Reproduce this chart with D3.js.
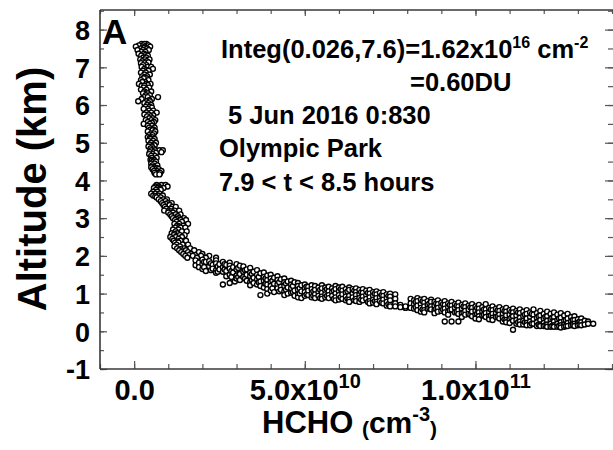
<!DOCTYPE html>
<html><head><meta charset="utf-8">
<script src="https://cdn.jsdelivr.net/npm/d3@7"></script>
<style>
body{margin:0;background:#fff}
svg{display:block;font-family:"Liberation Sans",Arial,sans-serif;font-weight:bold}
</style>
</head><body><svg id="chart" width="613" height="450"></svg>
<script>
// ---------- data (HCHO in units of 1e10 molecules cm^-3, altitude in km) ----------
// vertical part of the profile: [altitude, hcho, hcho, ...]
const profileByAltitude = [
  [7.62,0.22,0.36,0.30],[7.58,0.14,0.42,0.27],[7.55,0.05,0.31,0.47],[7.52,0.28],[7.50,0.19,0.38],
  [7.46,0.10,0.26,0.43],[7.41,0.22,0.33],[7.36,0.13,0.29],[7.33,0.34],[7.31,0.21,0.40],
  [7.26,0.27,0.35],[7.21,0.18,0.32,0.45],[7.16,0.24,0.37],[7.13,0.42],[7.11,0.30,0.20],
  [7.06,0.36,0.26],[7.01,0.22,0.40,0.50],[6.96,0.30,0.55],[6.93,0.36],[6.91,0.26,0.42],
  [6.86,0.34,0.20],[6.81,0.30,0.46],[6.76,0.24,0.38],[6.73,0.30],[6.71,0.36,0.28],
  [6.66,0.20,0.42],[6.61,0.32,0.24],[6.56,0.14,0.36,0.48],[6.53,0.40],[6.51,0.22,0.30],
  [6.46,0.28,0.44],[6.41,0.20,0.36],[6.36,0.30,0.50],[6.33,0.36],[6.31,0.26,0.40],
  [6.26,0.34,0.46],[6.21,0.30,0.70,0.40],[6.16,0.22,0.52],[6.13,0.44],[6.10,0.12,0.36,0.46],
  [6.05,0.30,0.42],[6.00,0.38,0.50],[5.95,0.34,0.46],[5.93,0.52],[5.90,0.40,0.28],
  [5.85,0.44,0.56],[5.80,0.36,0.50,0.66],[5.75,0.42,0.30],[5.73,0.56],[5.70,0.48,0.38],
  [5.65,0.54,0.44],[5.60,0.34,0.50,0.62],[5.55,0.40,0.58],[5.53,0.52],[5.50,0.46,0.28],
  [5.45,0.52,0.40],[5.40,0.44,0.60],[5.35,0.48,0.56],[5.33,0.54],[5.30,0.40,0.62],
  [5.25,0.50,0.58],[5.20,0.44,0.54],[5.15,0.52,0.40],[5.13,0.46],[5.10,0.48,0.60],
  [5.05,0.42,0.56],[5.00,0.50,0.64],[4.95,0.46,0.58],[4.93,0.60],[4.90,0.52,0.42],
  [4.85,0.56,0.48],[4.80,0.50,0.62,0.74,0.84],[4.75,0.46,0.58,0.80],[4.73,0.64],[4.70,0.54,0.44],
  [4.65,0.60,0.50],[4.60,0.52,0.66],[4.55,0.48,0.58],[4.53,0.52],[4.50,0.56,0.64],
  [4.45,0.50,0.60],[4.40,0.54,0.68],[4.35,0.58,0.50],[4.33,0.66],[4.30,0.62,0.72,0.54],
  [4.25,0.66,0.80,0.58],[4.20,0.70,0.60,0.76],[4.16,0.64,0.74],
  [3.88,0.66,0.80,0.92],[3.84,0.62,0.72,0.98],[3.80,0.58,0.70,0.86],[3.78,0.76],[3.75,0.64,0.78],
  [3.70,0.56,0.68],[3.65,0.50,0.62,0.74],[3.60,0.56,0.70,0.84],[3.58,0.62],[3.55,0.66,0.78],
  [3.50,0.72,0.86,0.96],[3.45,0.78,0.92],[3.40,0.82,0.98,1.10],[3.38,0.92],[3.35,0.86,1.04],
  [3.30,0.90,1.12,1.22],[3.25,0.94,1.08],[3.20,0.88,1.02,1.18,1.32],[3.18,1.08],[3.15,1.00,1.14],
  [3.10,1.06,1.22,1.36],[3.05,1.10,1.28],[3.00,1.14,1.30,1.46],[2.98,1.24],[2.95,1.20,1.36,1.52],
  [2.90,1.24,1.40],[2.85,1.18,1.32,1.58],[2.80,1.26,1.44],[2.78,1.32],[2.75,1.20,1.36,1.50],
  [2.70,1.14,1.30],[2.65,1.22,1.40,1.54],[2.60,1.10,1.26],[2.58,1.18],[2.55,1.16,1.34,1.48],
  [2.50,1.06,1.22,1.40],[2.45,1.12,1.30],[2.40,1.16,1.36,1.52],[2.38,1.26],[2.35,1.20,1.30],
  [2.30,1.24,1.42,1.58],[2.25,1.18,1.34],[2.20,1.26,1.46,1.64],[2.18,1.36],[2.15,1.32,1.52,1.76],
  [2.10,1.38,1.58,1.90],[2.05,1.44,1.66,2.00],[2.02,1.60],[2.00,1.50,1.72,1.96,2.20],[1.95,1.56,1.84,2.10,2.40]
];
// near-horizontal part of the profile: [hcho, altitude, altitude, ...]
const profileByHcho = [
  [1.80,1.88,1.75],[1.90,1.82,1.70],[2.00,1.90,1.78,1.65],[2.05,1.84,1.70],[2.10,1.84,1.60],
  [2.20,1.86,1.72],[2.25,1.80,1.62],[2.30,1.76,1.66],[2.40,1.88,1.80,1.62,1.55],[2.45,1.72,1.58],[2.50,1.78,1.64],
  [2.60,1.84,1.70,1.58,1.24],[2.65,1.78,1.64],[2.70,1.76,1.60,1.46],[2.80,1.82,1.74,1.66,1.50,1.28],[2.85,1.60,1.44],[2.90,1.70,1.56],
  [2.95,1.32],[3.00,1.78,1.64,1.48,1.40],[3.05,1.68,1.44],[3.10,1.74,1.52,1.36],[3.20,1.72,1.58,1.44],[3.25,1.62,1.40],
  [3.30,1.64,1.50,1.34],[3.40,1.68,1.56,1.46,1.30,1.22],[3.45,1.52,1.36],[3.50,1.58,1.42,1.28],[3.60,1.62,1.50,1.38,1.24],[3.65,1.44,1.30],
  [3.70,1.54,1.32,1.20,0.96],[3.80,1.56,1.44,1.34,1.16],[3.85,1.40,1.26],[3.90,1.48,1.36,1.24,1.12,1.00],[4.00,1.50,1.40,1.30,1.20,1.08],[4.05,1.34,1.14],
  [4.10,1.42,1.26,1.04],[4.20,1.46,1.36,1.24,1.14],[4.25,1.30,1.06],[4.30,1.38,1.18,1.10],[4.40,1.40,1.30,1.20,1.06,0.96],[4.45,1.26,1.10],
  [4.50,1.32,1.16,1.00],[4.60,1.34,1.24,1.14,1.02],[4.65,1.20,1.04],[4.70,1.30,1.08,0.94],[4.80,1.28,1.20,1.10,0.98,0.90],[4.85,1.14,1.00],
  [4.90,1.22,1.06,0.88],[5.00,1.24,1.14,1.04,0.94],[5.05,1.18,0.98],[5.10,1.18,1.08,0.96],[5.20,1.22,1.12,1.00,0.90],[5.25,1.06,0.94],
  [5.30,1.20,1.10,0.98,0.88],[5.40,1.16,1.04,0.94],[5.45,1.10,0.88],[5.50,1.22,1.14,1.02,0.92,0.86],[5.60,1.16,1.08,0.98,0.90],[5.65,1.12,0.94],
  [5.70,1.18,1.06,0.96,0.88],[5.80,1.14,1.04,0.94],[5.85,1.08,0.86],[5.90,1.20,1.12,1.00,0.90,0.82],[6.00,1.16,1.06,0.96,0.84],[6.05,1.12,0.90],
  [6.10,1.18,1.08,0.98,0.86],[6.20,1.12,1.02,0.92,0.82],[6.25,1.06,0.86],[6.30,1.16,1.10,0.94,0.84,0.78],[6.40,1.12,1.00,0.90],[6.45,1.08,0.82],
  [6.50,1.14,1.04,0.96,0.86,0.80],[6.60,1.10,0.98,0.88,0.78],[6.65,1.04,0.84],[6.70,1.12,1.02,0.92,0.82],[6.80,1.08,0.96,0.86],[6.85,1.02,0.78],
  [6.90,1.10,1.00,0.90,0.80,0.74],[7.00,1.04,0.94,0.84,0.76],[7.05,1.00,0.80],[7.10,1.06,0.98,0.88,0.78,0.72],[7.20,1.02,0.90,0.80],[7.25,0.96,0.76],
  [7.30,1.04,0.94,0.84,0.74],[7.40,0.98,0.88,0.78,0.68],[7.45,0.94,0.72],[7.50,1.00,0.92,0.82,0.70,0.66],[7.65,0.98,0.86,0.74,0.66],
  [7.80,0.70,0.64],[7.95,0.62,0.66],[8.10,0.86,0.74,0.62],[8.20,0.82,0.72,0.60],[8.25,0.78,0.64],
  [8.30,0.88,0.80,0.68,0.56],[8.40,0.84,0.72,0.62,0.52],[8.45,0.80,0.58],[8.50,0.86,0.76,0.66,0.56,0.50],[8.60,0.80,0.70,0.60],[8.65,0.74,0.62],
  [8.70,0.84,0.78,0.66,0.58],[8.80,0.78,0.68,0.56,0.48],[8.85,0.74,0.60],[8.90,0.82,0.72,0.62,0.52],[9.00,0.76,0.66,0.54],[9.05,0.72,0.58],
  [9.10,0.80,0.70,0.60,0.50,0.26],[9.20,0.74,0.64,0.52,0.44],[9.25,0.70,0.56],[9.30,0.78,0.68,0.58,0.26],[9.40,0.72,0.62,0.50],[9.45,0.68,0.52],
  [9.50,0.76,0.66,0.56,0.46,0.26],[9.60,0.70,0.60,0.48,0.38],[9.65,0.66,0.50],[9.70,0.74,0.64,0.54,0.44],[9.80,0.68,0.58,0.46],[9.85,0.64,0.44],
  [9.90,0.72,0.62,0.52,0.40],[10.00,0.66,0.54,0.44,0.34],[10.05,0.62,0.46],[10.10,0.70,0.60,0.50,0.40,0.32],[10.20,0.64,0.52,0.42],[10.25,0.58,0.44],
  [10.30,0.72,0.58,0.48,0.38],[10.40,0.62,0.50,0.40,0.32],[10.45,0.58,0.42],[10.50,0.66,0.56,0.46,0.36,0.30],[10.60,0.60,0.48,0.38],[10.65,0.56,0.40],
  [10.70,0.64,0.54,0.44,0.34],[10.80,0.58,0.46,0.36,0.26],[10.85,0.54,0.32],[10.90,0.62,0.52,0.42,0.30,0.24],[11.00,0.56,0.44,0.32,0.22],[11.05,0.52,0.36],
  [11.10,0.60,0.50,0.40,0.28,0.04],[11.20,0.54,0.42,0.30,0.20],[11.25,0.50,0.24],[11.30,0.58,0.48,0.36,0.26,0.18],[11.40,0.52,0.40,0.28,0.18],[11.45,0.44,0.24],
  [11.50,0.56,0.46,0.34,0.22,0.16],[11.60,0.50,0.38,0.26,0.16],[11.65,0.46,0.20],[11.70,0.58,0.44,0.32,0.20],[11.80,0.48,0.36,0.24,0.14],[11.85,0.40,0.18],
  [11.90,0.54,0.42,0.30,0.18,0.14],[12.00,0.46,0.34,0.22,0.14],[12.05,0.38,0.16],[12.10,0.52,0.40,0.28,0.18,0.12],[12.20,0.46,0.32,0.20,0.12],[12.25,0.36,0.14],
  [12.30,0.50,0.38,0.26,0.16,0.12],[12.40,0.44,0.30,0.20,0.12],[12.45,0.34,0.14],[12.50,0.48,0.36,0.24,0.16,0.10],[12.60,0.42,0.28,0.18,0.12],[12.65,0.30,0.14],
  [12.70,0.46,0.34,0.22,0.14],[12.80,0.38,0.26,0.16],[12.85,0.30,0.18],[12.90,0.40,0.30,0.20,0.14],[13.00,0.32,0.22,0.16],[13.05,0.26,0.18],
  [13.10,0.34,0.24,0.16],[13.20,0.28,0.18],[13.30,0.26,0.20],[13.45,0.20]
];
const xMajorTicks = [0, 5, 10];
const xTickMantissa = ["0.0", "5.0x10", "1.0x10"];
const xTickExponent = ["", "10", "11"];
const yMajorTicks = [-1, 0, 1, 2, 3, 4, 5, 6, 7, 8];
const annotationLines = [
  [{t:"Integ(0.026,7.6)=1.62x10"},{t:"16",sup:1},{t:" cm"},{t:"-2",sup:1}],
  [{t:"=0.60DU"}],
  [{t:"5 Jun 2016 0:830"}],
  [{t:"Olympic Park"}],
  [{t:"7.9 < t < 8.5 hours"}]
];
const annotationX = [221, 410, 228, 219, 219];
const annotationY = [58, 91, 124, 157, 191];

// ---------- build ----------
const points = [];
profileByAltitude.forEach(r => r.slice(1).forEach(v => points.push([v, r[0]])));
profileByHcho.forEach(r => r.slice(1).forEach(a => points.push([r[0], a])));

const svg = d3.select("#chart");
const L = 100, R = 612, T = 10, B = 369;
const x = d3.scaleLinear().domain([-1, 14]).range([L, R]);
const y = d3.scaleLinear().domain([-1, 8.52]).range([B, T]);
const axisColor = "#3a3a3a";

// minor ticks
const xMinor = d3.range(-1, 15, 1), yMinor = d3.range(-1, 8.6, 0.5);
function styleAxis(g){ g.select(".domain").remove(); g.selectAll("line").attr("stroke","#555").attr("stroke-width",1.2); }
svg.append("g").attr("transform",`translate(0,${B})`).call(d3.axisBottom(x).tickValues(xMinor).tickSize(-5).tickFormat("")).call(styleAxis);
svg.append("g").attr("transform",`translate(0,${T})`).call(d3.axisTop(x).tickValues(xMinor).tickSize(-4).tickFormat("")).call(styleAxis);
svg.append("g").attr("transform",`translate(${L},0)`).call(d3.axisLeft(y).tickValues(yMinor).tickSize(-4).tickFormat("")).call(styleAxis);
svg.append("g").attr("transform",`translate(614,0)`).call(d3.axisRight(y).tickValues(yMinor).tickSize(-6).tickFormat("")).call(styleAxis);
// major ticks
svg.append("g").attr("transform",`translate(0,${T})`).call(d3.axisTop(x).tickValues(xMajorTicks).tickSize(-6).tickFormat("")).call(styleAxis);
svg.append("g").attr("transform",`translate(614,0)`).call(d3.axisRight(y).tickValues(yMajorTicks).tickSize(-9).tickFormat("")).call(styleAxis);

const xAx = svg.append("g").attr("transform",`translate(0,${B})`)
  .call(d3.axisBottom(x).tickValues(xMajorTicks).tickSize(-8).tickPadding(0).tickFormat(""));
styleAxis(xAx);
xAx.selectAll(".tick").append("text").attr("y", 31).attr("fill","#000")
  .attr("text-anchor","middle").attr("font-size", 29)
  .each(function(d, i){
    const t = d3.select(this);
    t.append("tspan").text(xTickMantissa[i]);
    if (xTickExponent[i]) t.append("tspan").attr("dy", -12).attr("font-size", 20).text(xTickExponent[i]);
  });

const yAx = svg.append("g").attr("transform",`translate(${L},0)`)
  .call(d3.axisLeft(y).tickValues(yMajorTicks).tickSize(-7).tickPadding(10).tickFormat(d => String(d)));
styleAxis(yAx);
yAx.selectAll("text").attr("font-size", 27).attr("font-family", null).attr("fill","#000").attr("dy","0.36em");

// frame
svg.append("path").attr("d",`M${L},${T}H614 M${L},${B}H614 M${L},${T}V${B}`)
  .attr("stroke", axisColor).attr("stroke-width", 1.6).attr("fill","none");

// points
svg.append("g").selectAll("circle").data(points).join("circle")
  .attr("cx", d => x(d[0])).attr("cy", d => y(d[1])).attr("r", 2.5)
  .attr("fill", "#fff").attr("stroke", "#000").attr("stroke-width", 1.35);

// panel letter
svg.append("text").attr("x", 102).attr("y", 44).attr("font-size", 35).text("A");

// annotations
annotationLines.forEach((parts, i) => {
  const t = svg.append("text").attr("x", annotationX[i]).attr("y", annotationY[i]).attr("font-size", 25.5);
  let up = false;
  parts.forEach(p => {
    const s = t.append("tspan").text(p.t);
    if (p.sup) { s.attr("font-size", 16).attr("dy", up ? 0 : -10); up = true; }
    else if (up) { s.attr("dy", 10); up = false; }
  });
});

// axis titles
svg.append("text").attr("transform","translate(46,189) rotate(-90)")
  .attr("text-anchor","middle").attr("font-size", 40).text("Altitude (km)");
const xt = svg.append("text").attr("x", 262).attr("y", 433).attr("font-size", 31);
xt.append("tspan").text("HCHO ");
xt.append("tspan").attr("font-size", 21).attr("dy", 3).text("(");
xt.append("tspan").attr("font-size", 30).attr("dy", -3).text("cm");
xt.append("tspan").attr("font-size", 20).attr("dy", -12).text("-3");
xt.append("tspan").attr("font-size", 21).attr("dy", 15).text(")");
</script>
</body></html>
